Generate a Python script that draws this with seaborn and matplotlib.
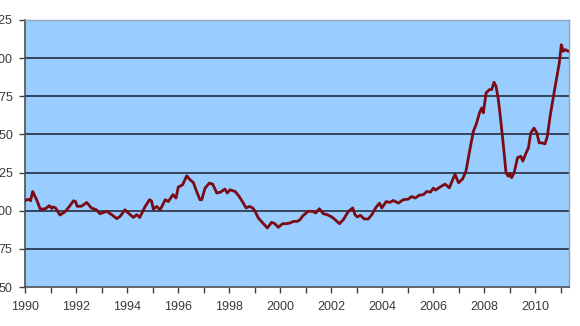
import matplotlib
matplotlib.use("Agg")
import matplotlib.pyplot as plt
import seaborn as sns
import pandas as pd
from matplotlib.ticker import MultipleLocator, FixedLocator

years = [
    1990.00, 1990.15, 1990.22, 1990.30, 1990.46, 1990.60, 1990.80, 1990.95, 1991.05, 1991.10,
    1991.20, 1991.37, 1991.57, 1991.74, 1991.90, 1991.98, 1992.05, 1992.22, 1992.42, 1992.60,
    1992.80, 1992.94, 1993.20, 1993.40, 1993.60, 1993.73, 1993.92, 1994.05, 1994.25, 1994.38,
    1994.50, 1994.70, 1994.88, 1994.96, 1995.03, 1995.16, 1995.30, 1995.50, 1995.62, 1995.80,
    1995.92, 1996.01, 1996.18, 1996.34, 1996.47, 1996.60, 1996.73, 1996.86, 1996.93, 1997.06,
    1997.23, 1997.36, 1997.52, 1997.67, 1997.84, 1997.93, 1998.04, 1998.24, 1998.40, 1998.56,
    1998.67, 1998.80, 1998.93, 1999.02, 1999.15, 1999.32, 1999.50, 1999.67, 1999.80, 1999.93,
    2000.10, 2000.26, 2000.40, 2000.52, 2000.68, 2000.78, 2000.90, 2001.10, 2001.28, 2001.40,
    2001.54, 2001.70, 2001.85, 2002.03, 2002.16, 2002.33, 2002.48, 2002.68, 2002.85, 2002.94,
    2003.03, 2003.15, 2003.30, 2003.46, 2003.60, 2003.76, 2003.90, 2003.99, 2004.16, 2004.30,
    2004.44, 2004.64, 2004.83, 2005.03, 2005.16, 2005.30, 2005.46, 2005.62, 2005.75, 2005.90,
    2006.01, 2006.10, 2006.27, 2006.47, 2006.64, 2006.77, 2006.86, 2007.00, 2007.16, 2007.29,
    2007.42, 2007.58, 2007.69, 2007.82, 2007.91, 2007.97, 2008.08, 2008.21, 2008.30, 2008.39,
    2008.47, 2008.56, 2008.65, 2008.76, 2008.86, 2008.95, 2009.00, 2009.08, 2009.18, 2009.31,
    2009.44, 2009.52, 2009.65, 2009.74, 2009.83, 2009.96, 2010.07, 2010.16, 2010.26, 2010.39,
    2010.48, 2010.59, 2010.72, 2010.86, 2010.95, 2011.03, 2011.10, 2011.18, 2011.30,
]
values = [
    106.7, 107.5, 106.5, 112.6, 107.0, 101.0, 101.3, 103.3, 101.5, 102.5,
    101.8, 97.2, 99.3, 102.8, 106.5, 106.0, 102.8, 103.0, 105.4, 101.8,
    100.6, 98.0, 99.6, 97.4, 94.8, 96.3, 100.6, 98.5, 95.6, 97.4,
    95.6, 102.4, 107.2, 106.5, 101.0, 102.8, 100.6, 107.2, 106.0, 110.5,
    108.3, 115.5, 117.0, 122.9, 120.3, 118.5, 112.6, 107.2, 107.2, 114.8,
    118.1, 117.4, 111.6, 112.2, 114.2, 111.6, 113.7, 112.6, 109.3, 105.0,
    101.8, 102.8, 101.8, 99.6, 95.2, 92.0, 88.7, 92.4, 91.5, 89.1,
    91.5, 91.5, 92.0, 93.0, 93.0, 94.1, 96.7, 99.6, 99.6, 98.5,
    101.3, 98.0, 97.4, 95.9, 94.1, 91.5, 94.1, 99.6, 101.8, 97.4,
    95.9, 97.0, 94.6, 94.6, 97.4, 102.2, 105.0, 101.8, 106.0, 105.4,
    106.7, 105.0, 107.2, 107.6, 109.3, 108.3, 110.2, 110.5, 112.6, 112.2,
    114.8, 113.5, 115.5, 117.4, 115.0, 120.5, 123.8, 118.3, 120.9, 125.9,
    138.0, 152.1, 156.5, 164.1, 167.4, 164.1, 177.2, 179.4, 179.4, 184.2,
    181.5, 172.8, 159.8, 142.3, 124.9, 122.6, 124.5, 121.6, 124.9, 134.7,
    135.7, 132.5, 138.0, 141.2, 151.0, 154.1, 151.0, 144.5, 144.5, 143.8,
    148.8, 161.9, 175.0, 188.1, 196.9, 208.8, 204.5, 205.6, 204.5,
]
y_ticks = [50, 75, 100, 125, 150, 175, 200, 225]
x_ticks = [1990, 1992, 1994, 1996, 1998, 2000, 2002, 2004, 2006, 2008, 2010]

df = pd.DataFrame({"year": years, "value": values})

sns.set_style("white")
plt.rcParams['font.family'] = ['Liberation Sans', 'DejaVu Sans']

fig = plt.figure(figsize=(5.8, 3.26), dpi=100)
fig.patch.set_facecolor("white")
ax = fig.add_axes([25/580, 1-287/326, (569-25)/580, (287-20)/326])
ax.set_facecolor("#99CCFF")

sns.lineplot(data=df, x="year", y="value", ax=ax, color="#7A0A14", linewidth=2.0, zorder=3)

ax.set_xlim(1990, 2011.33)
ax.set_ylim(50, 225)
ax.yaxis.set_major_locator(FixedLocator(y_ticks))
ax.xaxis.set_major_locator(FixedLocator(x_ticks))
ax.xaxis.set_minor_locator(MultipleLocator(1))
ax.set_xticklabels([str(t) for t in x_ticks])
ax.set_yticklabels([str(t) for t in y_ticks])

for t in [75, 100, 125, 150, 175, 200]:
    ax.axhline(t, color="#34445A", linewidth=1.4, zorder=2)

ax.set_xlabel("")
ax.set_ylabel("")
ax.tick_params(axis="both", which="both", direction="out", length=4, width=1,
               color="#404040", labelsize=9, labelcolor="#3A3A3A")
ax.tick_params(axis="y", pad=5)
ax.tick_params(axis="x", pad=6)
ax.tick_params(axis="x", which="minor", bottom=True, length=4)
ax.tick_params(bottom=True, left=True)

for side in ["left", "bottom"]:
    ax.spines[side].set_color("#505050")
    ax.spines[side].set_linewidth(1.2)
for side in ["top", "right"]:
    ax.spines[side].set_color("#8FA3BC")
    ax.spines[side].set_linewidth(1.0)
    ax.spines[side].set_visible(True)

fig.savefig("out.png", dpi=100, facecolor="white")
